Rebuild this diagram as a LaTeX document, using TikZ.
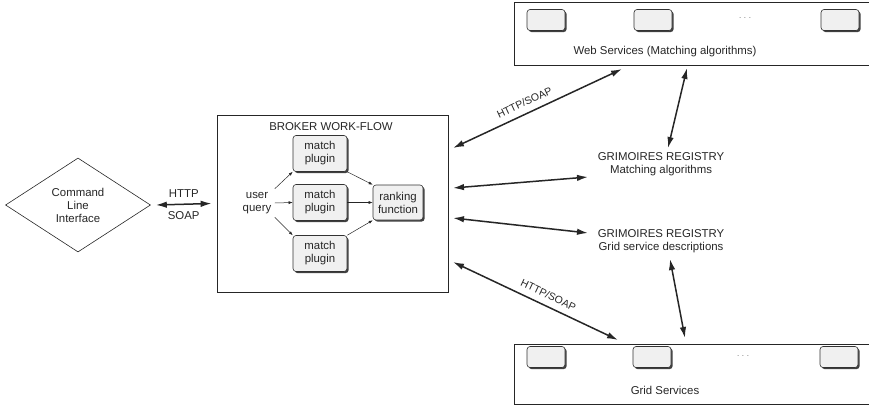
\documentclass[tikz,border=0pt]{standalone}
\usepackage{fontspec}
\setmainfont{Liberation Sans}
\usetikzlibrary{shapes.geometric,arrows.meta,shadows}
\begin{document}
\begin{tikzpicture}[x=1pt,y=-1pt,
  every node/.style={font=\fontsize{11.4}{13}\selectfont, text=black!85, align=center},
  plug/.style={draw=black!80, rounded corners=3pt, fill=black!6, line width=0.6pt,
    drop shadow={shadow xshift=1.6pt, shadow yshift=-1.6pt, fill=black!75, opacity=1},
    minimum width=54pt, minimum height=36pt, inner sep=1pt},
  svc/.style={draw=black!80, rounded corners=3pt, fill=black!6, line width=0.6pt,
    drop shadow={shadow xshift=1.6pt, shadow yshift=-1.6pt, fill=black!75, opacity=1},
    minimum width=38pt, minimum height=21pt, inner sep=0pt},
  panel/.style={draw=black!85, line width=0.7pt, inner sep=0pt},
  thin/.style={-{Latex[length=4pt,width=3pt]}, line width=0.5pt, black!85},
  big/.style={{Latex[length=11pt,width=6.5pt]}-{Latex[length=11pt,width=6.5pt]}, line width=1.5pt, black!85},
  lbl/.style={font=\fontsize{10.5}{12}\selectfont},
  dotstyle/.style={font=\fontsize{8}{9}\selectfont, text=black!60}
]
\useasboundingbox (0,0) rectangle (869,407);

% command line interface
\node[diamond, draw=black!85, line width=0.6pt, minimum width=145pt, minimum height=94pt, inner sep=0pt, aspect=1.54] (cli) at (78,205) {Command\\Line\\Interface};

% broker
\node[panel, minimum width=231pt, minimum height=177pt] (broker) at (332.5,203.5) {};
\node (btitle) at (331,127) {BROKER WORK-FLOW};
\node[plug] (p1) at (320,153.5) {match\\plugin};
\node[plug] (p2) at (320,202.5) {match\\plugin};
\node[plug] (p3) at (320,253.5) {match\\plugin};
\node[plug, minimum width=50pt, minimum height=35pt] (rank) at (398,202.5) {ranking\\function};
\node (uq) at (257,203) {user\\query};
\draw[thin] (uq.north east) -- (p1.south west);
\draw[thin] (uq.east) -- (p2.west);
\draw[thin] (uq.south east) -- (p3.north west);
\draw[thin] (p1.south east) -- (rank.north west);
\draw[thin] (p2.east) -- (rank.west);
\draw[thin] (p3.north east) -- (rank.south west);

% http soap
\draw[big] ([xshift=5pt]cli.east) -- ([xshift=-5pt]broker.west)
  node[midway, above=3pt] (h1) {HTTP} node[midway, below=3pt] (s1) {SOAP};

% web services panel
\node[panel, minimum width=360pt, minimum height=63pt] (ws) at (694,33.5) {};
\node[svc] (w1) at (546,20) {};
\node[svc] (w2) at (653,20) {};
\node[svc] (w3) at (840,20) {};
\node[dotstyle] (wdots) at (745,18) {.\,\,.\,\,.};
\node (wlabel) at (665,52) {Web Services (Matching algorithms)};

% grid services panel
\node[panel, minimum width=360pt, minimum height=60pt] (gs) at (694,374) {};
\node[svc] (g1) at (546,357) {};
\node[svc] (g2) at (652,357) {};
\node[svc] (g3) at (839,357) {};
\node[dotstyle] (gdots) at (743,356) {.\,\,.\,\,.};
\node (glabel) at (665,390) {Grid Services};

% registries
\node (regm) at (661,164.5) {GRIMOIRES REGISTRY\\Matching algorithms};
\node (regg) at (661,241.5) {GRIMOIRES REGISTRY\\Grid service descriptions};

% connector end points
\coordinate (b1) at (453,148);
\coordinate (b2) at (453,188);
\coordinate (b3) at (453,218);
\coordinate (b4) at (453,262);
\coordinate (wsA) at (622,69);
\coordinate (wsB) at (687,68);
\coordinate (gsA) at (618,340);
\coordinate (gsB) at (685,338);
\coordinate (rmL) at (588,177);
\coordinate (rmT) at (668,148);
\coordinate (rgL) at (588,233);
\coordinate (rgB) at (670,259);

\draw[big] (b1) -- (wsA) node[pos=0.45, above=3pt, sloped, lbl] {HTTP/SOAP};
\draw[big] (wsB) -- (rmT);
\draw[big] (b2) -- (rmL);
\draw[big] (b3) -- (rgL);
\draw[big] (b4) -- (gsA) node[pos=0.55, above=3pt, sloped, lbl] {HTTP/SOAP};
\draw[big] (rgB) -- (gsB);
\end{tikzpicture}
\end{document}
